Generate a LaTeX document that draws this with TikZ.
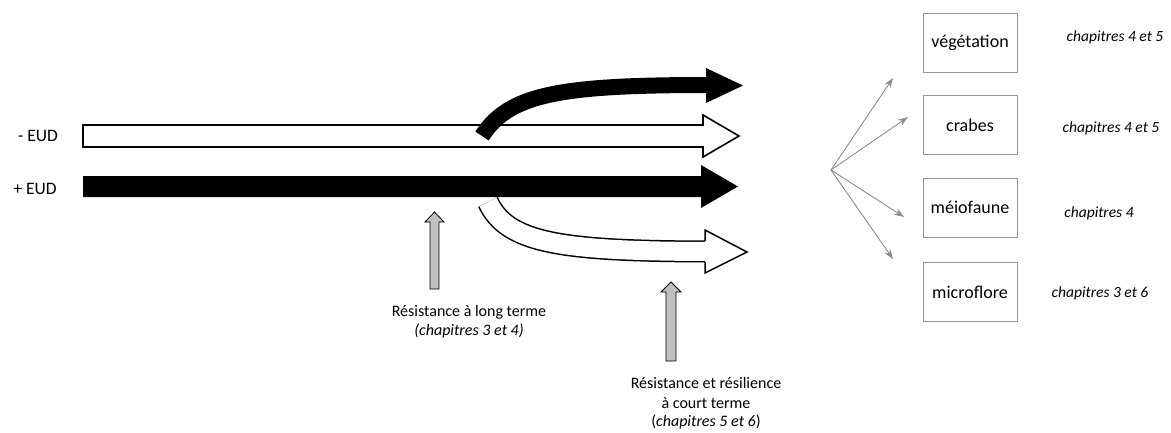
\documentclass[tikz,border=0pt]{standalone}
\usepackage{fontspec}
\setmainfont{Carlito}
\usetikzlibrary{arrows.meta}
\definecolor{shaftgray}{RGB}{191,191,191}
\definecolor{fangray}{RGB}{140,140,140}
\definecolor{boxgray}{RGB}{150,150,150}
\tikzset{
  lbl/.style={font=\fontsize{16}{19}\selectfont, inner sep=0pt, align=center},
  eud/.style={font=\fontsize{17.5}{20}\selectfont, inner sep=0pt},
  chap/.style={font=\fontsize{15.5}{18}\selectfont\itshape, inner sep=0pt},
  compbox/.style={draw=boxgray, line width=1pt, minimum width=94pt, minimum height=59pt, inner sep=0pt, font=\fontsize{18}{21}\selectfont},
  fanarrow/.style={draw=fangray, line width=0.9pt, -{Stealth[length=10pt,width=7pt]}},
  grayarrow/.style={draw=black, line width=0.8pt, fill=shaftgray},
}
\begin{document}
\begin{tikzpicture}[x=1pt,y=-1pt]
\useasboundingbox (0,0) rectangle (1171,432);

% lower white curved arrow (drawn first, under the black straight arrow)
\draw[line width=22pt, black] (488,202) .. controls (507,243) and (560,251) .. (707,251.5);
\draw[line width=19pt, white] (488,202) .. controls (507,243) and (560,251) .. (707,251.5);
\draw[line width=1.5pt, fill=white, line join=miter] (705,241) -- (705,230) -- (747,252) -- (705,273) -- (705,262);

% white straight arrow (- EUD)
\draw[line width=1.6pt, fill=white, line join=miter] (83,125) -- (703,125) -- (703,115) -- (739,136) -- (703,157) -- (703,147) -- (83,147) -- cycle;

% black straight arrow (+ EUD)
\fill[black] (83,176) -- (701,176) -- (701,165) -- (738,186.5) -- (701,208) -- (701,197) -- (83,197) -- cycle;

% top black curved arrow
\draw[line width=16pt, black] (482,136) .. controls (509,94) and (560,85) .. (708,85);
\fill[black] (706,68) -- (743,85.5) -- (706,103) -- cycle;

% labels
\node[eud] (minus) at (38,136) {- EUD};
\node[eud] (plus) at (35,189) {+ EUD};

% gray arrows
\draw[grayarrow] (430,289) -- (430,222) -- (425,222) -- (434.5,212) -- (444,222) -- (439,222) -- (439,289) -- cycle;
\draw[grayarrow] (666,361) -- (666,292) -- (661,292) -- (671,282) -- (681,292) -- (676,292) -- (676,361) -- cycle;

\node[lbl] (rlt) at (469,312) {Résistance à long terme};
\node[lbl] (rltc) at (469,331) {\itshape(chapitres 3 et 4)};
\node[lbl] (rct1) at (706,383) {Résistance et résilience};
\node[lbl] (rct2) at (706,403) {à court terme};
\node[lbl] (rct3) at (706,422) {(\textit{chapitres 5 et 6})};

% boxes
\node[compbox] (veg) at (970,42.5) {végétation};
\node[compbox] (crab) at (970,125) {crabes};
\node[compbox] (meio) at (970,207.5) {méiofaune};
\node[compbox] (micro) at (970,292) {microflore};

\node[chap] (c1) at (1115,37) {chapitres 4 et 5};
\node[chap] (c2) at (1111,128) {chapitres 4 et 5};
\node[chap] (c3) at (1099,213) {chapitres 4};
\node[chap] (c4) at (1100,293) {chapitres 3 et 6};

% fan
\coordinate (o) at (831,170);
\coordinate (t1) at (893,78);
\coordinate (t2) at (908,117);
\coordinate (t3) at (904,217);
\coordinate (t4) at (893,259);
\draw[fanarrow] (o) -- (t1);
\draw[fanarrow] (o) -- (t2);
\draw[fanarrow] (o) -- (t3);
\draw[fanarrow] (o) -- (t4);
\end{tikzpicture}
\end{document}
